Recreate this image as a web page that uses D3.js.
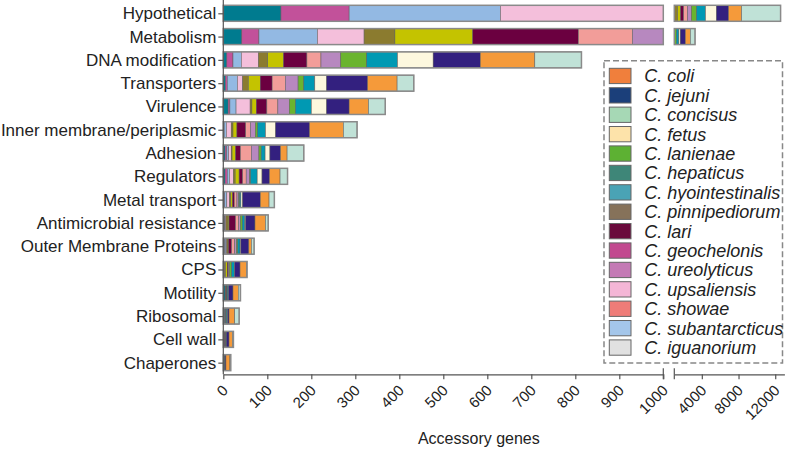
<!DOCTYPE html>
<html><head><meta charset="utf-8">
<script src="https://cdn.jsdelivr.net/npm/d3@7"></script>
<style>
body{margin:0;background:#fff;}
svg{display:block;font-family:"Liberation Sans",Arial,sans-serif;}
</style></head>
<body><svg id="c" width="785" height="453"></svg>
<script>
const categories = ["Hypothetical","Metabolism","DNA modification","Transporters","Virulence","Inner membrane/periplasmic","Adhesion","Regulators","Metal transport","Antimicrobial resistance","Outer Membrane Proteins","CPS","Motility","Ribosomal","Cell wall","Chaperones"];

// stack order (left to right) and bar colours
const stackKeys = ["hepaticus","geochelonis","subantarcticus","upsaliensis","pinnipediorum","iguanorium","lari","showae","ureolyticus","lanienae","hyointestinalis","fetus","jejuni","coli","concisus"];
const barColors = ["#007b8f","#c2519a","#93b9e3","#f4bfdb","#8b7b2f","#c4c300","#6b0040","#f29d99","#b788bf","#6ab42f","#0099b3","#fdf8de","#33207f","#f59a3a","#c0e2d7"];

const hepaticus      = [131, 42,   8,  5, 11,  2,  4,  4,  2,  2,  2,  1,  4,  3, 2, 2];
const geochelonis    = [155, 39,  14,  4,  4,  0,  4,  5,  1,  1,  1,  0,  0,  0, 0, 0];
const subantarcticus = [344, 133, 19, 23, 14,  5,  4,  5,  5,  1,  3,  1,  1,  1, 1, 0];
const upsaliensis    = [400, 106, 39, 12, 32, 11,  6,  9,  6,  2,  2,  1,  0,  0, 0, 0];
const pinnipediorum  = [330, 70,  21, 13,  4,  4,  2,  4,  3,  5,  3,  2,  1,  0, 0, 0];
const iguanorium     = [330, 177, 36, 27, 10,  9,  8,  9,  4,  2,  1,  4,  0,  0, 0, 0];
const lari           = [330, 240, 53, 27, 24, 20, 11,  8,  4, 15,  7,  2,  2,  1, 2, 1];
const showae         = [430, 123, 32, 30, 25, 11, 25,  8,  6,  7,  7,  1,  0,  0, 0, 0];
const ureolyticus    = [430, 80,  45, 29, 26, 11, 17,  8,  4,  4,  4,  2,  0,  1, 0, 0];
const lanienae       = [545, 220, 59, 13, 14,  5,  5,  2,  2,  4,  3,  5,  1,  1, 1, 0];
const hyointestinalis= [980, 270, 70, 25, 36, 18,  9, 15,  3,  6,  5,  6,  2,  2, 1, 1];
const fetus          = [1200,160, 81, 27, 35, 23, 11, 11,  4,  2,  2,  1,  1,  1, 0, 0];
const jejuni         = [1310,545,107, 93, 51, 77, 24, 17, 40, 21, 18, 12, 10,  3, 6, 2];
const coli           = [1420,545,124, 67, 44, 77, 15, 24, 20, 24,  6, 15, 12, 13, 8, 9];
const concisus       = [4250,510,106, 38, 38, 31, 38, 17, 12,  6,  6,  1,  5, 10, 2, 2];

const legendNames  = ["C. coli","C. jejuni","C. concisus","C. fetus","C. lanienae","C. hepaticus","C. hyointestinalis","C. pinnipediorum","C. lari","C. geochelonis","C. ureolyticus","C. upsaliensis","C. showae","C. subantarcticus","C. iguanorium"];
const legendColors = ["#f07f3c","#1b3f7a","#a6d8b5","#fde3aa","#5db133","#3e8678","#4aa3b5","#86725a","#6a0a3c","#c2498f","#c47ab5","#f4b6d6","#ef7c78","#a4c6ea","#e1e1e1"];

const ticks1 = [0,100,200,300,400,500,600,700,800,900,1000];
const ticks2 = [4000,8000,12000];
const xTitle = "Accessory genes";

const seriesData = {hepaticus,geochelonis,subantarcticus,upsaliensis,pinnipediorum,iguanorium,lari,showae,ureolyticus,lanienae,hyointestinalis,fetus,jejuni,coli,concisus};
const rows = categories.map((c,i)=>{const r={cat:c}; stackKeys.forEach(k=>r[k]=seriesData[k][i]); return r;});
const stacked = d3.stack().keys(stackKeys)(rows);
const totals = rows.map(r=>d3.sum(stackKeys,k=>r[k]));

const svg = d3.select("#c");
const axisY = 374.3;
const x1 = d3.scaleLinear().domain([0,1000]).range([223.3,663.3]);
const x2 = d3.scaleLinear().domain([1000,13000]).range([674.3,784.4]);
const y = d3.scalePoint().domain(categories).range([1.65,axisY]).padding(0.5);
const bh = 16;
const axisCol = "#555";

const defs = svg.append("defs");
defs.append("clipPath").attr("id","cp1").append("rect").attr("x",x1(0)).attr("y",0).attr("width",x1(1000)-x1(0)).attr("height",axisY);
defs.append("clipPath").attr("id","cp2").append("rect").attr("x",x2(1000)).attr("y",0).attr("width",785-x2(1000)).attr("height",axisY);

[[x1,"cp1",0,1000],[x2,"cp2",1000,13000]].forEach(([xs,cp,lo,hi])=>{
  const g = svg.append("g").attr("clip-path",`url(#${cp})`);
  stacked.forEach((s,si)=>{
    g.append("g").selectAll("rect").data(s).join("rect")
      .attr("x",d=>xs(Math.max(d[0],lo)))
      .attr("y",d=>y(d.data.cat)-bh/2)
      .attr("width",d=>Math.max(0,xs(Math.min(d[1],hi))-xs(Math.max(d[0],lo))))
      .attr("height",bh)
      .attr("fill",barColors[si])
      .attr("stroke","#5a5a5a").attr("stroke-width",0.5);
  });
  svg.append("g").selectAll("rect").data(rows.map((r,i)=>({cat:r.cat,t:totals[i]})).filter(d=>d.t>lo)).join("rect")
    .attr("x",xs(lo))
    .attr("y",d=>y(d.cat)-bh/2)
    .attr("width",d=>xs(Math.min(d.t,hi))-xs(lo))
    .attr("height",bh)
    .attr("fill","none").attr("stroke","#8a8a8a").attr("stroke-width",1.5);
});

// y axis
const ga = svg.append("g").attr("transform",`translate(${x1(0)},0)`)
  .call(d3.axisLeft(y).tickSize(5).tickSizeOuter(0).tickPadding(2));
ga.select(".domain").attr("d",`M0,0V${axisY}`).attr("stroke",axisCol).attr("stroke-width",1.2);
ga.selectAll(".tick line").attr("stroke",axisCol).attr("stroke-width",1.2);
ga.selectAll(".tick text").attr("font-size",17).attr("fill","#222").attr("font-family","Liberation Sans, Arial, sans-serif");

// x axes
function xAxis(xs,tv){
  const g = svg.append("g").attr("transform",`translate(0,${axisY})`)
    .call(d3.axisBottom(xs).tickValues(tv).tickSize(5).tickSizeOuter(0).tickFormat(d3.format("d")));
  g.select(".domain").attr("stroke",axisCol).attr("stroke-width",1.2);
  g.selectAll(".tick line").attr("stroke",axisCol).attr("stroke-width",1.2);
  g.selectAll(".tick text").attr("font-size",15).attr("fill","#222")
    .attr("font-family","Liberation Sans, Arial, sans-serif")
    .attr("text-anchor","end").attr("dy",0).attr("y",0)
    .attr("transform","translate(5,17) rotate(-45)");
  return g;
}
xAxis(x1,ticks1);
xAxis(x2,ticks2);
[x1(1000),x2(1000)].forEach(xv=>{
  svg.append("line").attr("x1",xv).attr("x2",xv).attr("y1",axisY-6).attr("y2",axisY+5)
    .attr("stroke",axisCol).attr("stroke-width",1.2);
});
svg.append("text").attr("x",(x1(0)+x2(13000))/2 - 25).attr("y",444).attr("text-anchor","middle")
  .attr("font-size",16).attr("fill","#222").text(xTitle);

// legend
const lg = svg.append("g");
lg.append("rect").attr("x",604).attr("y",60.7).attr("width",178.5).attr("height",302.3)
  .attr("fill","#fff").attr("stroke","#888").attr("stroke-width",1.5).attr("stroke-dasharray","6,3");
const ly = d3.scaleLinear().domain([0,1]).range([68.3,87.7]);
const le = lg.selectAll("g.le").data(legendNames).join("g").attr("class","le")
  .attr("transform",(d,i)=>`translate(609.3,${ly(i)})`);
le.append("rect").attr("width",21.7).attr("height",15.3).attr("fill",(d,i)=>legendColors[i])
  .attr("stroke","#666").attr("stroke-width",1);
le.append("text").attr("x",35).attr("y",7.7).attr("dy","0.35em").attr("font-size",18)
  .attr("font-style","italic").attr("fill","#222").text(d=>d);
</script></body></html>
